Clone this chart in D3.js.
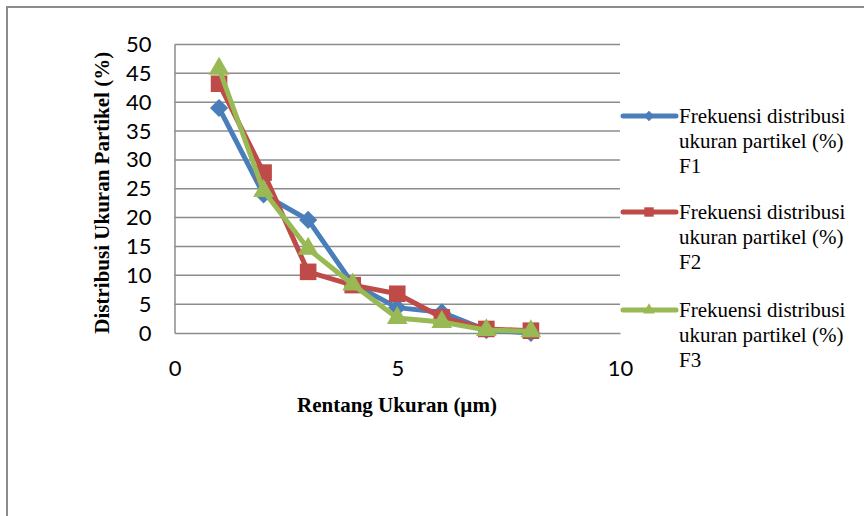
<!DOCTYPE html>
<html>
<head>
<meta charset="utf-8">
<script src="https://cdn.jsdelivr.net/npm/d3@7"></script>
<style>
  html, body { margin: 0; padding: 0; background: #fff; }
  svg { display: block; }
</style>
</head>
<body>
<svg id="chart" width="864" height="516"></svg>
<script>
// Particle size ranges (µm) and size-distribution frequency (%) per formula
const sizes = [1, 2, 3, 4, 5, 6, 7, 8];
const f1 = [39.0, 24.0, 19.6, 8.5, 4.4, 3.6, 0.5, 0.0];
const f2 = [43.2, 27.8, 10.6, 8.3, 6.8, 2.7, 0.7, 0.4];
const f3 = [45.8, 24.6, 14.6, 8.4, 2.6, 1.9, 0.5, 0.3];
const seriesNames = [
  ["Frekuensi distribusi", "ukuran partikel (%)", "F1"],
  ["Frekuensi distribusi", "ukuran partikel (%)", "F2"],
  ["Frekuensi distribusi", "ukuran partikel (%)", "F3"]
];
const yTicks = [0, 5, 10, 15, 20, 25, 30, 35, 40, 45, 50];
const xTicks = [0, 5, 10];

const colors = ["#4a7ebb", "#be4b48", "#98b954"];
// diamond = square rotated 45°
const markers = [d3.symbolSquare, d3.symbolSquare, d3.symbolTriangle];
const markerRot = [45, 0, 0];
const markerSizes = [165, 275, 185];

const svg = d3.select("#chart");
const serif = "'Liberation Serif', 'Times New Roman', serif";
const sans = "Lato, 'Open Sans', sans-serif";

// outer frame
svg.append("path")
  .attr("d", "M7,520 L7,7 L870,7")
  .attr("fill", "none")
  .attr("stroke", "#8c8c8c")
  .attr("stroke-width", 2);

const x = d3.scaleLinear().domain([0, 10]).range([174.5, 620]);
const y = d3.scaleLinear().domain([0, 50]).range([333, 44.5]);

// horizontal grid lines
svg.append("g")
  .selectAll("line")
  .data(yTicks.filter(v => v > 0))
  .join("line")
  .attr("x1", x(0)).attr("x2", x(10))
  .attr("y1", d => y(d)).attr("y2", d => y(d))
  .attr("stroke", "#8c8c8c")
  .attr("stroke-width", 1.5);

// axes
const yAxis = d3.axisLeft(y).tickValues(yTicks).tickSize(0).tickPadding(23).tickFormat(d3.format("d"));
const gy = svg.append("g").attr("transform", `translate(${x(0)},0)`).call(yAxis);
gy.select(".domain").attr("stroke", "#8c8c8c").attr("stroke-width", 1.5);
gy.selectAll("text").attr("font-family", sans).attr("font-size", 22).attr("fill", "#000");

const xAxis = d3.axisBottom(x).tickValues(xTicks).tickSize(0).tickPadding(27).tickFormat(d3.format("d"));
const gx = svg.append("g").attr("transform", `translate(0,${y(0)})`).call(xAxis);
gx.select(".domain").attr("stroke", "#8c8c8c").attr("stroke-width", 1.5);
gx.selectAll("text").attr("font-family", sans).attr("font-size", 22).attr("fill", "#000");

// axis titles
svg.append("text")
  .attr("transform", `translate(109,${(y(0) + y(50)) / 2 + 4}) rotate(-90)`)
  .attr("text-anchor", "middle")
  .attr("font-family", serif)
  .attr("font-weight", "bold")
  .attr("font-size", 21)
  .text("Distribusi Ukuran Partikel (%)");

svg.append("text")
  .attr("x", 397).attr("y", 412)
  .attr("text-anchor", "middle")
  .attr("font-family", serif)
  .attr("font-weight", "bold")
  .attr("font-size", 21)
  .text("Rentang Ukuran (µm)");

// series lines and markers
const allSeries = [f1, f2, f3];
const line = d3.line().x(d => x(d[0])).y(d => y(d[1]));

allSeries.forEach((vals, i) => {
  const pts = sizes.map((s, j) => [s, vals[j]]);
  const g = svg.append("g");
  g.append("path")
    .attr("d", line(pts))
    .attr("fill", "none")
    .attr("stroke", colors[i])
    .attr("stroke-width", 5)
    .attr("stroke-linejoin", "round")
    .attr("stroke-linecap", "round");
  g.selectAll("path.pt")
    .data(pts)
    .join("path")
    .attr("class", "pt")
    .attr("transform", d => `translate(${x(d[0])},${y(d[1])}) rotate(${markerRot[i]})`)
    .attr("d", d3.symbol().type(markers[i]).size(markerSizes[i]))
    .attr("fill", colors[i]);
});

// legend
const legendY = [116, 212, 310];
seriesNames.forEach((lines, i) => {
  const g = svg.append("g").attr("transform", `translate(0,${legendY[i]})`);
  g.append("line")
    .attr("x1", 623).attr("x2", 676)
    .attr("stroke", colors[i]).attr("stroke-width", 5)
    .attr("stroke-linecap", "round");
  g.append("path")
    .attr("transform", `translate(649,0) rotate(${markerRot[i]})`)
    .attr("d", d3.symbol().type(markers[i]).size(markerSizes[i] * 0.32))
    .attr("fill", colors[i]);
  lines.forEach((t, k) => {
    g.append("text")
      .attr("x", 679).attr("y", 7 + k * 25)
      .attr("font-family", serif)
      .attr("font-size", 21)
      .attr("fill", "#000")
      .text(t);
  });
});
</script>
</body>
</html>
